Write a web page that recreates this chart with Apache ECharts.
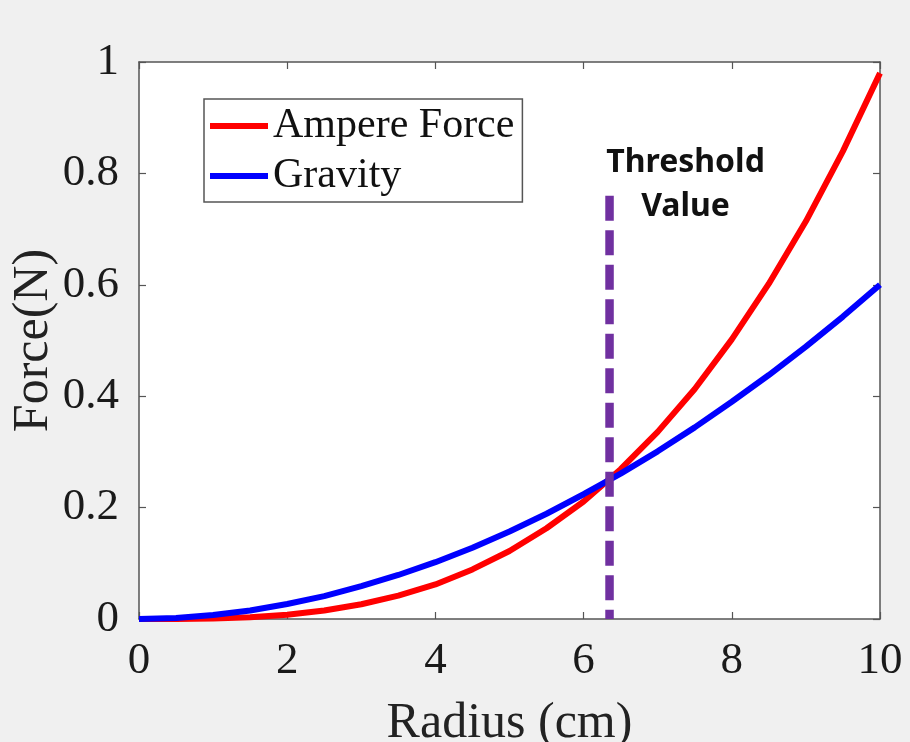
<!DOCTYPE html>
<html>
<head>
<meta charset="utf-8">
<script src="https://cdn.jsdelivr.net/npm/echarts@6/dist/echarts.min.js"></script>
<style>
  html, body { margin: 0; padding: 0; background: #f0f0f0; }
  #chart { width: 910px; height: 742px; }
</style>
</head>
<body>
<div id="chart"></div>
<script>
// Radius samples (cm)
const radius = [0, 0.5, 1, 1.5, 2, 2.5, 3, 3.5, 4, 4.5, 5, 5.5, 6, 6.5, 7, 7.5, 8, 8.5, 9, 9.5, 10];
// Ampere force on the ring (N)
const ampereForce = [0, 0.0001, 0.001, 0.0033, 0.0078, 0.0153, 0.0265, 0.042, 0.062, 0.089, 0.122, 0.163, 0.211, 0.269, 0.336, 0.413, 0.502, 0.602, 0.714, 0.84, 0.98];
// Gravity on the ring (N)
const gravity = [0, 0.0019, 0.007, 0.0154, 0.027, 0.041, 0.059, 0.079, 0.102, 0.128, 0.157, 0.189, 0.224, 0.261, 0.301, 0.344, 0.39, 0.438, 0.489, 0.543, 0.6];
// Threshold radius and height of the marker line
const thresholdRadius = 6.35;
const thresholdTop = 0.76;
const thresholdText = 'Threshold\nValue';
// Axis ticks
const xTicks = { min: 0, max: 10, step: 2 };
const yTicks = { min: 0, max: 1, step: 0.2 };

const serif = '"Liberation Serif", "Times New Roman", serif';
const boxColor = '#555';

const chart = echarts.init(document.getElementById('chart'), null, { renderer: 'canvas' });

const pairs = (xs, ys) => xs.map((x, i) => [x, ys[i]]);

const boxLine = { show: true, onZero: false, lineStyle: { color: boxColor, width: 1.5 } };
const inTicks = { show: true, inside: true, length: 7, lineStyle: { color: boxColor, width: 1.2 } };

// Top and right axes close the box with inward ticks only
const mirrorAxis = {
  show: true,
  axisLine: boxLine,
  axisTick: inTicks,
  axisLabel: { show: false },
  splitLine: { show: false }
};

chart.setOption({
  backgroundColor: '#f0f0f0',
  animation: false,
  grid: {
    left: 139, right: 30, top: 62, bottom: 123,
    containLabel: false,
    outerBoundsMode: 'none',
    show: true, backgroundColor: '#ffffff', borderWidth: 0
  },
  legend: {
    orient: 'vertical',
    left: 204, top: 99,
    padding: [3, 8, 2, 6],
    itemGap: 2,
    itemWidth: 58, itemHeight: 6,
    icon: 'rect',
    backgroundColor: '#ffffff',
    borderColor: boxColor, borderWidth: 1.5, borderRadius: 0,
    textStyle: { fontFamily: serif, fontSize: 42, color: '#111', lineHeight: 48 },
    data: ['Ampere Force', 'Gravity']
  },
  xAxis: [
    {
      type: 'value', min: xTicks.min, max: xTicks.max, interval: xTicks.step,
      name: 'Radius (cm)', nameLocation: 'middle', nameGap: 80, nameMoveOverlap: false,
      nameTextStyle: { fontFamily: serif, fontSize: 50, color: '#222' },
      axisLine: boxLine,
      axisTick: inTicks,
      axisLabel: { fontFamily: serif, fontSize: 45, color: '#1a1a1a', margin: 20 },
      splitLine: { show: false }
    },
    Object.assign({ type: 'value', position: 'top', min: xTicks.min, max: xTicks.max, interval: xTicks.step }, mirrorAxis)
  ],
  yAxis: [
    {
      type: 'value', min: yTicks.min, max: yTicks.max, interval: yTicks.step,
      name: 'Force(N)', nameLocation: 'middle', nameGap: 80, nameMoveOverlap: false,
      nameTextStyle: { fontFamily: serif, fontSize: 50, color: '#222' },
      axisLine: boxLine,
      axisTick: inTicks,
      axisLabel: { fontFamily: serif, fontSize: 45, color: '#1a1a1a', margin: 20 },
      splitLine: { show: false }
    },
    Object.assign({ type: 'value', position: 'right', min: yTicks.min, max: yTicks.max, interval: yTicks.step }, mirrorAxis)
  ],
  series: [
    {
      name: 'Ampere Force', type: 'line',
      data: pairs(radius, ampereForce),
      symbol: 'none', showSymbol: false, clip: false,
      color: '#ff0000',
      lineStyle: { color: '#ff0000', width: 6 }
    },
    {
      name: 'Gravity', type: 'line',
      data: pairs(radius, gravity),
      symbol: 'none', showSymbol: false, clip: false,
      color: '#0000ff',
      lineStyle: { color: '#0000ff', width: 6 }
    },
    {
      name: 'Threshold', type: 'line',
      data: [[thresholdRadius, thresholdTop], [thresholdRadius, 0]],
      symbol: 'none', showSymbol: false, clip: false,
      lineStyle: { color: '#7030a0', width: 8.5, type: [25, 9.5] },
      z: 5
    },
    {
      // caption attached to the top of the threshold line
      name: 'Threshold caption', type: 'scatter',
      data: [[thresholdRadius, thresholdTop]],
      symbol: 'circle', symbolSize: 1,
      itemStyle: { color: 'rgba(0,0,0,0)' },
      silent: true,
      label: {
        show: true,
        formatter: thresholdText,
        position: 'top',
        offset: [76, 39],
        align: 'center',
        fontFamily: '"Noto Sans", sans-serif',
        fontWeight: 'bold',
        fontSize: 32,
        lineHeight: 44,
        color: '#111',
        opacity: 1
      },
      z: 6
    }
  ]
});
</script>
</body>
</html>
